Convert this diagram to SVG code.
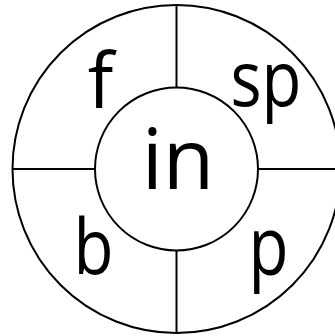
<svg xmlns="http://www.w3.org/2000/svg" width="335" height="336" viewBox="0 0 335 336">
  <style>
    .ring { fill: #fff; stroke: #000; stroke-width: 2; }
    .div { stroke: #000; stroke-width: 2; fill: none; }
    .lbl { font-family: "Open Sans", "Noto Sans", "DejaVu Sans", sans-serif; fill: #000; text-anchor: middle; }
    .corner { font-size: 76px; }
    .big { font-size: 80px; }
    .center { font-size: 84px; }
  </style>
  <rect width="335" height="336" fill="#fff"/>
  <g id="outer">
    <circle class="ring" cx="176.5" cy="169" r="164"/>
  </g>
  <g id="connectors">
    <line class="div" x1="176.5" y1="5" x2="176.5" y2="88"/>
    <line class="div" x1="176.5" y1="250" x2="176.5" y2="333"/>
    <line class="div" x1="12.5" y1="169" x2="95" y2="169"/>
    <line class="div" x1="258" y1="169" x2="341" y2="169"/>
  </g>
  <g id="node-f">
    <text class="lbl corner" x="100.5" y="108">f</text>
  </g>
  <g id="node-sp">
    <text class="lbl corner" x="266" y="106" textLength="71" lengthAdjust="spacingAndGlyphs">sp</text>
  </g>
  <g id="node-b">
    <text class="lbl corner" x="93.5" y="274" textLength="40" lengthAdjust="spacingAndGlyphs">b</text>
  </g>
  <g id="node-p">
    <text class="lbl big" x="268.5" y="275" textLength="40" lengthAdjust="spacingAndGlyphs">p</text>
  </g>
  <g id="node-in">
    <circle class="ring" cx="176.5" cy="169" r="81.5"/>
    <text class="lbl center" x="178" y="189">in</text>
  </g>
</svg>
